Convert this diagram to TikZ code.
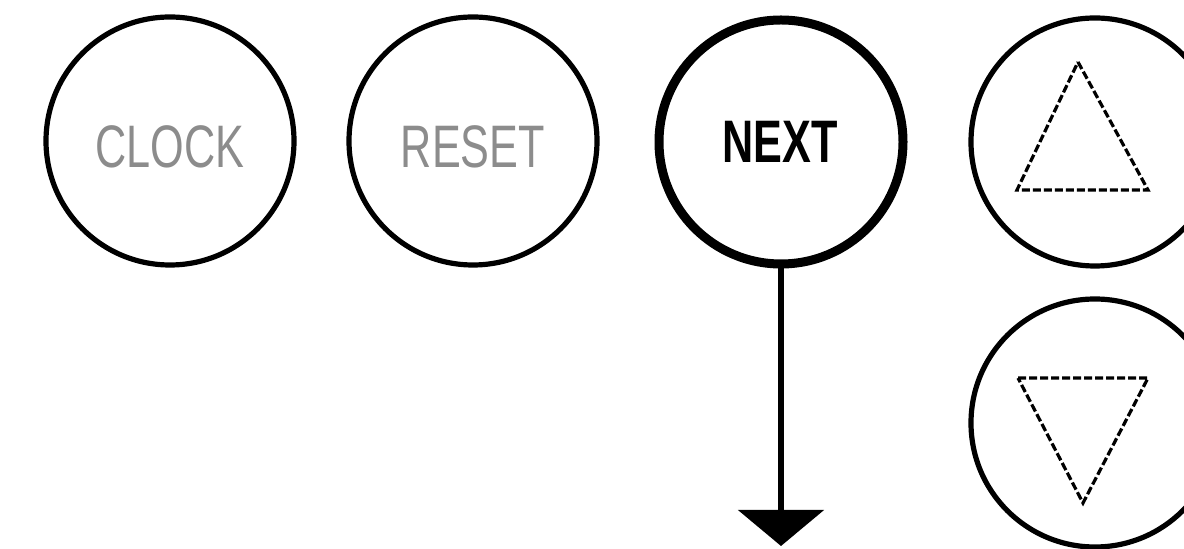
\documentclass[tikz,border=0pt]{standalone}
\usepackage{fontspec}
\setmainfont{Liberation Sans}
\usetikzlibrary{arrows.meta}
\begin{document}
\begin{tikzpicture}[x=0.5pt,y=-0.5pt,
  btn/.style={circle, draw=black, line width=2.6pt, minimum size=124pt, inner sep=0pt},
  nextbtn/.style={circle, draw=black, line width=4.5pt, minimum size=122pt, inner sep=0pt},
  lbl/.style={font=\fontsize{30}{30}\selectfont, xscale=0.72},
  faint/.style={text=black!45},
  tri/.style={draw=black, line width=1.6pt, dash pattern=on 4pt off 1.5pt}]
\useasboundingbox (0,0) rectangle (1184,549);
\node[btn] (clock) at (170,141) {};
\node[lbl,faint] (clocktxt) at (170,147) {CLOCK};
\node[btn] (reset) at (473,141) {};
\node[lbl,faint] (resettxt) at (473,147) {RESET};
\node[nextbtn] (next) at (781,142) {};
\node[lbl,font=\fontsize{30}{30}\selectfont\bfseries] (nexttxt) at (780,142) {NEXT};
\node[btn] (up) at (1095,142) {};
\node[btn] (down) at (1095,423) {};
\draw[tri] (1078,62) -- (1148,190) -- (1017,190) -- cycle;
\draw[tri] (1018,378) -- (1148,378) -- (1083,503) -- cycle;
\coordinate (end) at (781,546);
\draw[line width=3pt, -{Triangle[width=42.5pt,length=18pt]}] (next.south) -- (end);
\end{tikzpicture}
\end{document}
